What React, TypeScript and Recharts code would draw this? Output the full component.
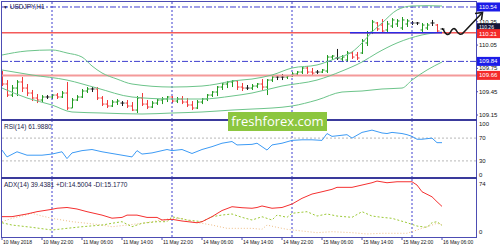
import { ComposedChart, Bar, Line, XAxis, YAxis, ReferenceLine } from 'recharts'

// ---------------------------------------------------------------------------
// Data — USDJPY H1, 10 May 14:00 -> 16 May 06:00 (one entry per hour bar)
// ---------------------------------------------------------------------------

const BAR_OPEN = [
  109.703, 109.549, 109.407, 109.497, 109.575, 109.497, 109.433, 109.369, 109.343, 109.382,
  109.382, 109.407, 109.382, 109.433, 109.240, 109.343, 109.382, 109.459, 109.485, 109.485,
  109.369, 109.291, 109.266, 109.317, 109.304, 109.304, 109.266, 109.214, 109.369, 109.291,
  109.253, 109.304, 109.343, 109.356, 109.382, 109.330, 109.356, 109.317, 109.279, 109.240,
  109.317, 109.356, 109.407, 109.446, 109.510, 109.549, 109.575, 109.588, 109.510, 109.497,
  109.497, 109.523, 109.549, 109.510, 109.600, 109.639, 109.639, 109.639, 109.652, 109.678,
  109.703, 109.755, 109.703, 109.703, 109.703, 109.716, 109.896, 109.884, 109.871, 109.858,
  109.948, 109.922, 109.948, 110.077, 110.218, 110.334, 110.308, 110.244, 110.295, 110.321,
  110.270, 110.321, 110.334, 110.334, 110.244, 110.270, 110.334, 110.308, 110.257,
]
const BAR_HIGH = [
  109.716, 109.600, 109.536, 109.600, 109.639, 109.549, 109.472, 109.420, 109.407, 109.407,
  109.420, 109.433, 109.459, 109.575, 109.369, 109.407, 109.485, 109.510, 109.510, 109.510,
  109.394, 109.343, 109.343, 109.356, 109.330, 109.343, 109.317, 109.394, 109.433, 109.343,
  109.330, 109.356, 109.382, 109.394, 109.394, 109.382, 109.394, 109.369, 109.330, 109.343,
  109.369, 109.420, 109.459, 109.523, 109.562, 109.588, 109.600, 109.600, 109.562, 109.536,
  109.549, 109.562, 109.613, 109.613, 109.652, 109.665, 109.678, 109.665, 109.703, 109.716,
  109.768, 109.781, 109.755, 109.729, 109.742, 109.922, 109.922, 110.000, 109.922, 109.974,
  109.974, 109.961, 110.128, 110.231, 110.373, 110.347, 110.385, 110.360, 110.398, 110.385,
  110.411, 110.385, 110.360, 110.347, 110.334, 110.334, 110.373, 110.321, 110.270,
]
const BAR_LOW = [
  109.523, 109.382, 109.382, 109.394, 109.446, 109.394, 109.330, 109.304, 109.317, 109.356,
  109.356, 109.356, 109.369, 109.214, 109.240, 109.330, 109.369, 109.433, 109.446, 109.343,
  109.266, 109.240, 109.253, 109.279, 109.266, 109.240, 109.201, 109.176, 109.266, 109.227,
  109.240, 109.279, 109.291, 109.317, 109.304, 109.304, 109.291, 109.253, 109.214, 109.227,
  109.291, 109.330, 109.382, 109.394, 109.472, 109.497, 109.510, 109.472, 109.459, 109.472,
  109.472, 109.497, 109.472, 109.407, 109.575, 109.600, 109.600, 109.613, 109.639, 109.652,
  109.678, 109.678, 109.665, 109.678, 109.690, 109.690, 109.858, 109.858, 109.832, 109.832,
  109.871, 109.858, 109.935, 110.038, 110.192, 110.231, 110.205, 110.218, 110.270, 110.283,
  110.244, 110.283, 110.308, 110.308, 110.218, 110.244, 110.295, 110.205, 110.244,
]
const BAR_CLOSE = [
  109.549, 109.407, 109.497, 109.575, 109.497, 109.433, 109.369, 109.343, 109.382, 109.382,
  109.407, 109.382, 109.433, 109.240, 109.343, 109.382, 109.459, 109.485, 109.485, 109.369,
  109.291, 109.266, 109.317, 109.330, 109.304, 109.266, 109.214, 109.369, 109.291, 109.253,
  109.304, 109.343, 109.356, 109.382, 109.330, 109.356, 109.317, 109.279, 109.240, 109.317,
  109.356, 109.407, 109.446, 109.510, 109.549, 109.575, 109.588, 109.510, 109.497, 109.497,
  109.523, 109.549, 109.510, 109.600, 109.639, 109.639, 109.639, 109.652, 109.678, 109.703,
  109.755, 109.703, 109.690, 109.703, 109.729, 109.896, 109.909, 109.884, 109.896, 109.948,
  109.896, 109.884, 110.102, 110.205, 110.347, 110.257, 110.231, 110.321, 110.373, 110.360,
  110.373, 110.360, 110.334, 110.334, 110.308, 110.308, 110.334, 110.231, 110.257,
]

// Bollinger bands (bar index, price)
const BB_UP_IDX = [0, 5, 10, 13, 16, 18, 20, 23, 26, 34, 40, 43, 46, 50, 54, 58, 63, 67, 70, 72, 74, 76, 79, 82, 85, 88]
const BB_UP_VAL = [
  109.922, 109.974, 109.987, 109.948, 109.896, 109.781, 109.691, 109.613, 109.549, 109.510,
  109.523, 109.549, 109.588, 109.613, 109.665, 109.755, 109.794, 109.884, 109.961, 110.077,
  110.218, 110.334, 110.501, 110.553, 110.557, 110.553,
]
const BB_MID_IDX = [0, 6, 13, 19, 26, 34, 40, 46, 50, 56, 63, 68, 72, 75, 79, 84, 88]
const BB_MID_VAL = [
  109.729, 109.665, 109.600, 109.497, 109.382, 109.356, 109.356, 109.394, 109.433, 109.523,
  109.600, 109.716, 109.832, 109.948, 110.077, 110.180, 110.218,
]
const BB_LOW_IDX = [0, 5, 10, 14, 20, 28, 34, 40, 46, 50, 54, 58, 63, 68, 72, 76, 80, 82, 85, 88]
const BB_LOW_VAL = [
  109.497, 109.369, 109.279, 109.189, 109.176, 109.163, 109.176, 109.189, 109.214, 109.227,
  109.240, 109.266, 109.343, 109.446, 109.459, 109.485, 109.497, 109.600, 109.729, 109.832,
]

// RSI(14)
const RSI_IDX = [
  0, 1, 3, 5, 8, 10, 12, 13, 14, 16, 18, 20, 22, 24, 26, 27, 28, 30, 33, 34, 36, 38, 40, 42,
  44, 46, 47, 50, 51, 53, 54, 56, 58, 60, 62, 64, 65, 66, 69, 70, 72, 74, 76, 77, 78, 80, 81,
  82, 83, 84, 86, 87, 88,
]
const RSI_VAL = [
  49, 37, 46, 40, 40, 42, 46, 34, 44, 48, 50, 46, 43, 40, 37, 48, 42, 44, 50, 48, 50, 43, 50, 55,
  61, 64, 58, 59, 61, 49, 58, 61, 66, 67, 67, 66, 78, 73, 76, 70, 80, 84, 79, 78, 80, 78, 76,
  73, 68, 68, 70, 62, 62,
]

// ADX(14), +DI, -DI
const ADX_IDX = [
  0, 2, 5, 7, 10, 11, 13, 15, 17, 20, 22, 24, 25, 27, 29, 31, 32, 34, 36, 39, 40, 42, 44, 46,
  48, 50, 51, 52, 54, 56, 58, 60, 62, 64, 66, 67, 70, 72, 74, 75, 77, 79, 82, 83, 84, 86, 87, 88,
]
const ADX_VAL = [
  26, 26, 29.5, 32.5, 35.6, 37, 38, 36, 32.5, 28, 24, 25, 28, 28, 25, 25, 21.6, 22.5, 20.3, 18,
  19.4, 26, 34, 39, 37.7, 37, 38, 40, 37, 38, 42.5, 50, 55.6, 58.6, 61.8, 64.4, 64.4, 67.4, 70.4,
  72.6, 70.4, 71.7, 71.7, 67.4, 58.6, 52, 45.5, 39.4,
]
const PDI_IDX = [
  0, 2, 6, 10, 13, 16, 20, 22, 24, 26, 28, 31, 33, 34, 37, 40, 42, 44, 46, 48, 50, 52, 54, 55,
  57, 58, 61, 63, 65, 67, 70, 72, 74, 76, 78, 81, 83, 85, 86, 87, 88,
]
const PDI_VAL = [
  18, 15, 12, 8.5, 10.7, 12.8, 15, 17.3, 19.4, 12.8, 17.3, 19.4, 19.4, 25.9, 21.6, 19.4, 25.9,
  28.1, 29.5, 25.1, 21.6, 25.9, 21.6, 28.1, 25.1, 30.4, 32.5, 26.8, 29.5, 26.8, 25.1, 32.5, 26.8,
  25.1, 23.8, 18.1, 13.7, 12, 18.1, 19.4, 14.5,
]
const MDI_IDX = [
  0, 2, 4, 6, 8, 10, 12, 14, 17, 20, 22, 25, 28, 30, 32, 34, 36, 38, 40, 42, 45, 48, 50, 52,
  53, 55, 57, 60, 63, 66, 70, 73, 76, 81, 83, 84, 86, 87, 88,
]
const MDI_VAL = [
  19.4, 23.8, 26.8, 30.4, 26.8, 23.8, 21.6, 19.4, 17.3, 15, 12.8, 15, 17.3, 19.4, 21.6, 23.8,
  23.8, 19.4, 17.3, 15, 10.7, 10.7, 10.7, 9.4, 15, 12, 9.4, 7.2, 5, 6.3, 5, 3.3, 4.2, 4.2, 8.5,
  10.7, 15, 17.3, 15.2,
]

const TIME_TICKS = [0, 8, 16, 24, 32, 40, 48, 56, 64, 72, 80, 88]
const TIME_LABELS = [
  '10 May 2018', '10 May 22:00', '11 May 06:00', '11 May 14:00', '11 May 22:00', '14 May 06:00',
  '14 May 14:00', '14 May 22:00', '15 May 06:00', '15 May 14:00', '15 May 22:00', '16 May 06:00',
]
const DAY_BREAKS = [10, 34, 58, 82]
const PRICE_TICKS = [109.15, 109.45, 109.75, 110.05, 110.35]

// ---------------------------------------------------------------------------
// Styling
// ---------------------------------------------------------------------------

const FONT = '"Liberation Sans", Arial, sans-serif'
const FRAME = '#4d4db3'
const SEP = '#3a3a9c'
const GRID_BLUE = '#3f3fcf'
const UP = '#1f9a1f'
const DOWN = '#f03a3a'
const DOJI = '#1a1a1a'
const BAND = '#6cc48a'
const X_DOMAIN: [number, number] = [-0.2, 94.8]

const bars = BAR_OPEN.map((o, i) => ({
  i,
  o,
  h: BAR_HIGH[i],
  l: BAR_LOW[i],
  c: BAR_CLOSE[i],
  range: [BAR_LOW[i], BAR_HIGH[i]],
}))

const pts = (idx: number[], val: number[]) => idx.map((i, k) => ({ i, v: val[k] }))

// ---------------------------------------------------------------------------
// Shapes / ticks
// ---------------------------------------------------------------------------

function OhlcShape(props: any) {
  const { x, y, width, height, payload } = props
  if (x == null || y == null) return null
  const top = Math.min(y, y + height)
  const bot = Math.max(y, y + height)
  const cx = Math.round(x + width / 2) + 0.5
  const span = payload.h - payload.l || 1
  const yAt = (v: number) => top + ((payload.h - v) / span) * (bot - top)
  const color = payload.c > payload.o ? UP : payload.c < payload.o ? DOWN : DOJI
  return (
    <g stroke={color} strokeWidth={1}>
      <line x1={cx} x2={cx} y1={top} y2={bot} />
      <line x1={cx - 2} x2={cx} y1={yAt(payload.o)} y2={yAt(payload.o)} />
      <line x1={cx} x2={cx + 2} y1={yAt(payload.c)} y2={yAt(payload.c)} />
    </g>
  )
}

function ScaleTick(props: any) {
  const { x, y, payload, shift } = props
  const dy = (shift && shift[payload.value]) || 0
  return (
    <text x={x} y={y + dy} dy="0.35em" fontSize={6} fill="#111" fontFamily={FONT} textAnchor="start">
      {payload.value}
    </text>
  )
}

function TimeTick(props: any) {
  const { x, y, payload } = props
  const k = TIME_TICKS.indexOf(payload.value)
  return (
    <text x={x + 1} y={y + 4} fontSize={5} fill="#111" fontFamily={FONT}>
      {TIME_LABELS[k]}
    </text>
  )
}

// coloured price tag at the right scale; offset nudges the box up/down a little
function priceTag(text: string, bg: string, offset = 0, size = 6) {
  return (props: any) => {
    const vb = props.viewBox || {}
    const left = vb.x + vb.width + 1
    const cy = vb.y + offset
    return (
      <g>
        <rect x={left} y={cy - 4.5} width={23} height={9} fill={bg} />
        <text x={left + 2} y={cy} dy="0.35em" fontSize={size} fill="#fff" fontFamily={FONT}>
          {text}
        </text>
      </g>
    )
  }
}

const dayBreaks = DAY_BREAKS.map((d) => (
  <ReferenceLine key={d} x={d} stroke={GRID_BLUE} strokeDasharray="2 2" strokeWidth={1} />
))

// ---------------------------------------------------------------------------
// App
// ---------------------------------------------------------------------------

export default function App() {
  return (
    <div
      style={{
        position: 'fixed',
        left: 0,
        top: 0,
        width: 500,
        height: 250,
        background: '#fff',
        overflow: 'hidden',
        fontFamily: FONT,
      }}
    >
      {/* Price window */}
      <div style={{ position: 'absolute', left: 0, top: 0 }}>
        <ComposedChart width={500} height={120} data={bars} margin={{ top: 1, right: 0, bottom: 0, left: 1 }}>
          <XAxis type="number" dataKey="i" domain={X_DOMAIN} hide allowDataOverflow />
          <YAxis
            orientation="right"
            width={24}
            domain={[109.086, 110.617]}
            allowDataOverflow
            ticks={PRICE_TICKS}
            interval={0}
            axisLine={false}
            tickSize={2}
            tickMargin={1}
            tickLine={{ stroke: FRAME }}
            tick={(p: any) => <ScaleTick {...p} />}
          />
          {dayBreaks}
          <ReferenceLine y={110.54} stroke={GRID_BLUE} strokeDasharray="6 2 2 2" label={priceTag('110.54', '#1c1ce8')} />
          <ReferenceLine y={109.84} stroke={GRID_BLUE} strokeDasharray="6 2 2 2" label={priceTag('109.84', '#1c1ce8')} />
          <ReferenceLine y={109.66} stroke="#f49a9a" strokeWidth={2} label={priceTag('109.66', '#f42a2a')} />
          <ReferenceLine y={110.26} stroke="none" label={priceTag('110.26', '#15153a', -1, 5)} />
          <ReferenceLine y={110.21} stroke="#f45a5a" strokeWidth={1.5} label={priceTag('110.21', '#f42a2a', 1)} />
          <Line data={pts(BB_UP_IDX, BB_UP_VAL)} dataKey="v" type="monotone" stroke={BAND} dot={false} isAnimationActive={false} />
          <Line data={pts(BB_MID_IDX, BB_MID_VAL)} dataKey="v" type="monotone" stroke={BAND} dot={false} isAnimationActive={false} />
          <Line data={pts(BB_LOW_IDX, BB_LOW_VAL)} dataKey="v" type="monotone" stroke={BAND} dot={false} isAnimationActive={false} />
          <Bar dataKey="range" barSize={4} shape={OhlcShape} isAnimationActive={false} />
          <ReferenceLine
            segment={[{ x: 69.6, y: 110.21 }, { x: 88, y: 110.21 }]}
            stroke="#2b2be6"
            strokeWidth={1.5}
          />
        </ComposedChart>
      </div>

      {/* RSI window */}
      <div style={{ position: 'absolute', left: 0, top: 121 }}>
        <ComposedChart width={500} height={57} margin={{ top: 0, right: 0, bottom: 0, left: 1 }}>
          <XAxis type="number" dataKey="i" domain={X_DOMAIN} hide allowDataOverflow />
          <YAxis
            orientation="right"
            width={24}
            domain={[0, 100]}
            allowDataOverflow
            ticks={[0, 30, 70, 100]}
            interval={0}
            axisLine={false}
            tickSize={2}
            tickMargin={1}
            tickLine={false}
            tick={(p: any) => <ScaleTick {...p} shift={{ 100: 3, 0: -3.5 }} />}
          />
          {dayBreaks}
          <ReferenceLine y={70} stroke="#b8b8b8" strokeDasharray="2 2" />
          <ReferenceLine y={30} stroke="#b8b8b8" strokeDasharray="2 2" />
          <Line data={pts(RSI_IDX, RSI_VAL)} dataKey="v" type="linear" stroke="#3d9bf5" dot={false} isAnimationActive={false} />
        </ComposedChart>
      </div>

      {/* ADX window */}
      <div style={{ position: 'absolute', left: 0, top: 179 }}>
        <ComposedChart width={500} height={71} margin={{ top: 0, right: 0, bottom: 0, left: 1 }}>
          <XAxis
            type="number"
            dataKey="i"
            domain={X_DOMAIN}
            allowDataOverflow
            ticks={TIME_TICKS}
            interval={0}
            height={13}
            axisLine={false}
            tickSize={3}
            tickMargin={0}
            tickLine={{ stroke: FRAME }}
            tick={(p: any) => <TimeTick {...p} />}
          />
          <YAxis
            orientation="right"
            width={24}
            domain={[-0.655, 75.31]}
            allowDataOverflow
            ticks={[0, 74]}
            interval={0}
            axisLine={false}
            tickSize={2}
            tickMargin={1}
            tickLine={false}
            tick={(p: any) => <ScaleTick {...p} shift={{ 74: 4, 0: -4.5 }} />}
          />
          {dayBreaks}
          <Line data={pts(MDI_IDX, MDI_VAL)} dataKey="v" type="linear" stroke="#eebd86" strokeDasharray="1 2" dot={false} isAnimationActive={false} />
          <Line data={pts(PDI_IDX, PDI_VAL)} dataKey="v" type="linear" stroke="#9cc936" strokeDasharray="2 2" dot={false} isAnimationActive={false} />
          <Line data={pts(ADX_IDX, ADX_VAL)} dataKey="v" type="linear" stroke="#f53030" dot={false} isAnimationActive={false} />
        </ComposedChart>
      </div>

      {/* window frame + separators */}
      <div style={{ position: 'absolute', left: 1, top: 1, width: 476, height: 237, border: `1px solid ${FRAME}`, boxSizing: 'border-box' }} />
      <div style={{ position: 'absolute', left: 1, top: 119, width: 476, height: 2, background: SEP }} />
      <div style={{ position: 'absolute', left: 1, top: 177, width: 476, height: 2, background: SEP }} />

      {/* window captions */}
      <div style={{ position: 'absolute', left: 3, top: 3, fontSize: 6.5, color: '#22224a', whiteSpace: 'nowrap', lineHeight: '8px' }}>
        <span style={{ fontSize: 5 }}>▼</span> USDJPY,H1
      </div>
      <div style={{ position: 'absolute', left: 4, top: 123, fontSize: 6.5, color: '#22224a', whiteSpace: 'nowrap', lineHeight: '8px' }}>
        RSI(14) 61.9880
      </div>
      <div style={{ position: 'absolute', left: 4, top: 181, fontSize: 6.5, color: '#22224a', whiteSpace: 'nowrap', lineHeight: '8px' }}>
        ADX(14) 39.4381 +DI:14.5004 -DI:15.1770
      </div>

      {/* watermark */}
      <div
        style={{
          position: 'absolute',
          left: 228,
          top: 112,
          width: 99,
          height: 19,
          background: '#8cc63f',
          color: '#fff',
          fontFamily: '"Open Sans", sans-serif',
          fontSize: 13,
          lineHeight: '19px',
          textAlign: 'center',
          whiteSpace: 'nowrap',
        }}
      >
        freshforex.com
      </div>

      {/* hand-drawn forecast arrow */}
      <svg width={500} height={250} style={{ position: 'absolute', left: 0, top: 0, pointerEvents: 'none' }}>
        <path
          d="M443,29 C445,34 448,36 450,33 C452,29 454,27 456,30 C458,34 461,36 464,32 L482,13"
          fill="none"
          stroke="#1a1a1a"
          strokeWidth={1.6}
          strokeLinejoin="round"
        />
        <path d="M475,13.5 L482.5,12.5 L481.5,20" fill="none" stroke="#1a1a1a" strokeWidth={1.6} />
      </svg>
    </div>
  )
}
